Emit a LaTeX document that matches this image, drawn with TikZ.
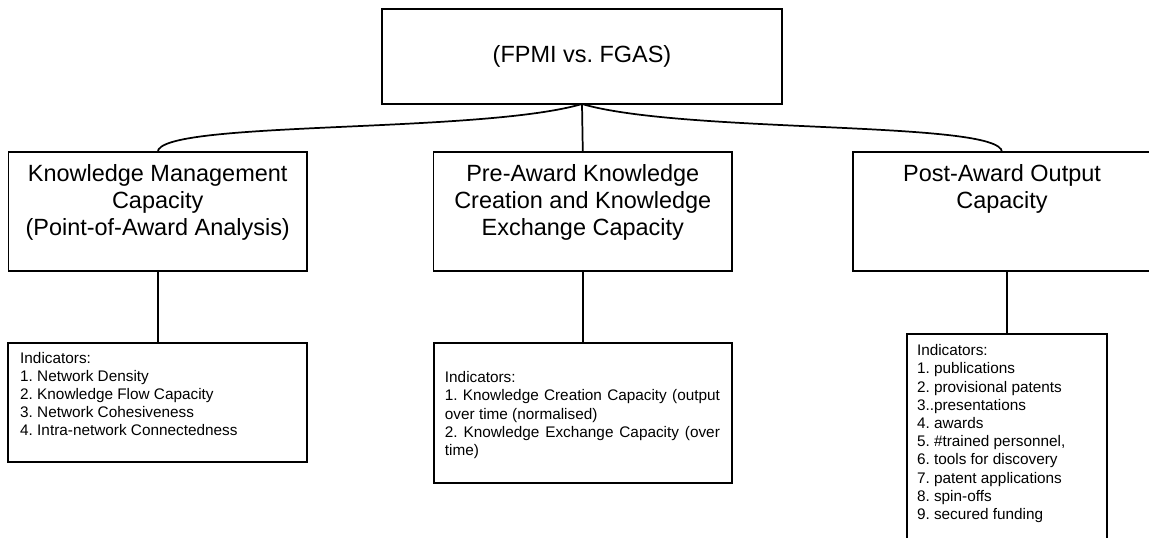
\documentclass[tikz,border=0pt]{standalone}
\usepackage{fontspec}
\setmainfont{Liberation Sans}
\usetikzlibrary{positioning}
\frenchspacing

\begin{document}
\begin{tikzpicture}
  [
    x=0.75pt, y=0.75pt,
    line width=1.3pt,
    every node/.style={inner sep=0pt, outer sep=0pt},
    bigtext/.style={font=\fontsize{17.6pt}{20.25pt}\selectfont, align=center},
    smalltext/.style={font=\fontsize{11.5pt}{13.65pt}\selectfont, align=left},
    capbox/.style={draw, minimum width=224pt, minimum height=89pt}
  ]
  \useasboundingbox (0,0) rectangle (1149,-537);
  \node[draw, minimum width=300pt, minimum height=71.25pt, bigtext] (root) at (582,-56.5) {(FPMI vs. FGAS)};
  \node[capbox] (kmc) at (157.7,-211.5) {};
  \node[capbox] (pre) at (582.8,-211.5) {};
  \node[capbox] (poc) at (1002,-211.5) {};
  \node[bigtext, below=9.4pt of kmc.north] (kmctext) {Knowledge Management\\Capacity\\(Point-of-Award Analysis)};
  \node[bigtext, below=9.4pt of pre.north] (pretext) {Pre-Award Knowledge\\Creation and Knowledge\\Exchange Capacity};
  \node[bigtext, below=9.4pt of poc.north] (poctext) {Post-Award Output\\Capacity};
  \node[draw, minimum width=224.25pt, minimum height=89.25pt] (kmi) at (157.7,-402.2) {};
  \node[draw, minimum width=223.3pt, minimum height=105.2pt] (pri) at (582.8,-413.2) {};
  \node[draw, minimum width=150pt, minimum height=172.5pt] (poi) at (1007,-449) {};
  \node[smalltext, below right=7pt and 9pt of kmi.north west] (kmitext)
    {Indicators:\\1. Network Density\\2. Knowledge Flow Capacity\\3. Network Cohesiveness\\4. Intra-network Connectedness};
  \node[smalltext, align=justify, text width=206.25pt, below right=21.4pt and 8.25pt of pri.north west] (pritext)
    {Indicators:\\1. Knowledge Creation Capacity (output\linebreak over time (normalised)\\2. Knowledge Exchange Capacity (over\linebreak time)};
  \node[smalltext, below right=7.9pt and 7.5pt of poi.north west] (poitext)
    {Indicators:\\1. publications\\2. provisional patents\\3..presentations\\4. awards\\5. \#trained personnel,\\6. tools for discovery\\7. patent applications\\8. spin-offs\\9. secured funding};
  \draw (root.south) .. controls +(-103,-30) and +(0,32) .. (kmc.north);
  \draw (root.south) -- (pre.north);
  \draw (root.south) .. controls +(103,-30) and +(0,32) .. (poc.north);
  \draw (kmc.south) -- (kmi.north);
  \draw (pre.south) -- (pri.north);
  \draw (poi.north) -- (poi.north |- poc.south);
\end{tikzpicture}
\end{document}
